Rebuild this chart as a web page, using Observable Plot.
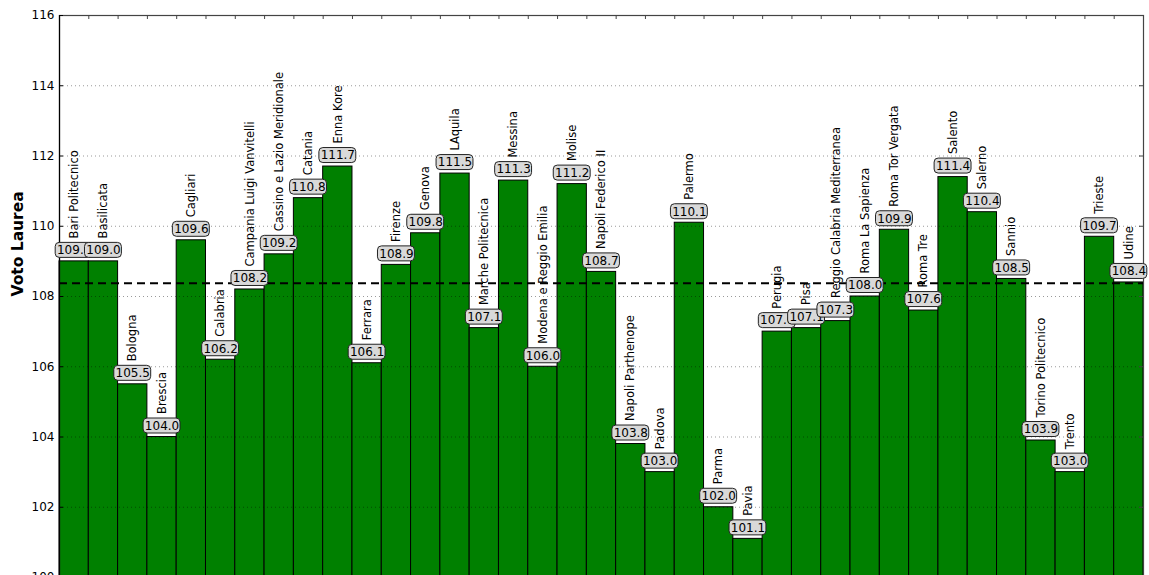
<!DOCTYPE html>
<html>
<head>
<meta charset="utf-8">
<script src="https://cdn.jsdelivr.net/npm/d3@7"></script>
<script src="https://cdn.jsdelivr.net/npm/@observablehq/plot@0.6"></script>
<style>
  html, body { margin: 0; padding: 0; background: #fff; overflow: hidden; }
  #chart svg { display: block; font-family: "DejaVu Sans", sans-serif; }
</style>
</head>
<body>
<div id="chart"></div>
<script>
const universita = [
  "Bari Politecnico", "Basilicata", "Bologna", "Brescia", "Cagliari", "Calabria",
  "Campania Luigi Vanvitelli", "Cassino e Lazio Meridionale", "Catania", "Enna Kore",
  "Ferrara", "Firenze", "Genova", "LAquila", "Marche Politecnica", "Messina",
  "Modena e Reggio Emilia", "Molise", "Napoli Federico II", "Napoli Parthenope",
  "Padova", "Palermo", "Parma", "Pavia", "Perugia", "Pisa",
  "Reggio Calabria Mediterranea", "Roma La Sapienza", "Roma Tor Vergata", "Roma Tre",
  "Salento", "Salerno", "Sannio", "Torino Politecnico", "Trento", "Trieste", "Udine"
];
const votoLaurea = [
  109.0, 109.0, 105.5, 104.0, 109.6, 106.2,
  108.2, 109.2, 110.8, 111.7,
  106.1, 108.9, 109.8, 111.5, 107.1, 111.3,
  106.0, 111.2, 108.7, 103.8,
  103.0, 110.1, 102.0, 101.1, 107.0, 107.1,
  107.3, 108.0, 109.9, 107.6,
  111.4, 110.4, 108.5, 103.9, 103.0, 109.7, 108.4
];
const mediaNazionale = 108.38;
const yDominio = [100, 116];
const yTicks = [100, 102, 104, 106, 108, 110, 112, 114, 116];
const yLabel = "Voto Laurea";

const data = universita.map((nome, i) => ({nome, voto: votoLaurea[i], i}));
const n = data.length;
const edges = d3.range(1, n);

const marks = [
  Plot.rectY(data, {x1: d => d.i, x2: d => d.i + 1, y1: yDominio[0], y2: "voto",
    fill: "#008000", stroke: "#000", strokeWidth: 1}),
  // grid
  Plot.ruleY(yTicks.slice(1, -1), {stroke: "#000", strokeOpacity: 0.4, strokeWidth: 1, strokeDasharray: "1,3"}),
  // frame
  Plot.frame({stroke: "#444", strokeWidth: 1.2}),
  Plot.ruleX([0], {stroke: "#000", strokeWidth: 1.2}),
  // inward ticks
  Plot.ruleX(edges, {x: d => d, y1: yDominio[1], y2: yDominio[1], insetBottom: -4, stroke: "#444"}),
  Plot.ruleY(yTicks, {y: d => d, x1: 0, x2: 0, insetRight: -4, stroke: "#000"}),
  Plot.ruleY(yTicks, {y: d => d, x1: n, x2: n, insetLeft: -4, stroke: "#444"}),
  // name labels
  Plot.text(data, {x: d => d.i + 0.5, y: "voto", text: "nome", rotate: -90,
    textAnchor: "start", dy: -23, fontSize: 11.5, fill: "#000"}),
  // mean line
  Plot.ruleY([mediaNazionale], {stroke: "#000", strokeWidth: 2, strokeDasharray: "8,5"}),
];
// value boxes drawn in order so later ones cover earlier ones
data.forEach(d => {
  marks.push(Plot.rectY([d], {x1: e => e.i, x2: e => e.i + 1, y1: "voto", y2: "voto",
    insetTop: -18.5, insetBottom: 3.5, insetLeft: -3.8, insetRight: -3.8,
    rx: 4, fill: "#d9d9d9", stroke: "#222", strokeWidth: 1}));
  marks.push(Plot.text([d], {x: e => e.i + 0.5, y: "voto", text: e => e.voto.toFixed(1),
    dy: -11, fontSize: 12, fill: "#000"}));
});
marks.push(Plot.text([yLabel], {frameAnchor: "left", dx: -41, rotate: -90,
  fontWeight: "bold", fontSize: 15.5, fill: "#000"}));

const chart = Plot.plot({
  width: 1149,
  height: 577,
  marginLeft: 59,
  marginRight: 6,
  marginTop: 15,
  marginBottom: 0,
  style: {fontFamily: "DejaVu Sans, sans-serif", fontSize: "12px", background: "#fff", color: "#000"},
  x: {domain: [0, n], axis: null},
  y: {domain: yDominio, ticks: yTicks, tickSize: 0, tickPadding: 5, label: null, tickFormat: d => String(d)},
  marks
});
document.getElementById("chart").appendChild(chart);
</script>
</body>
</html>
